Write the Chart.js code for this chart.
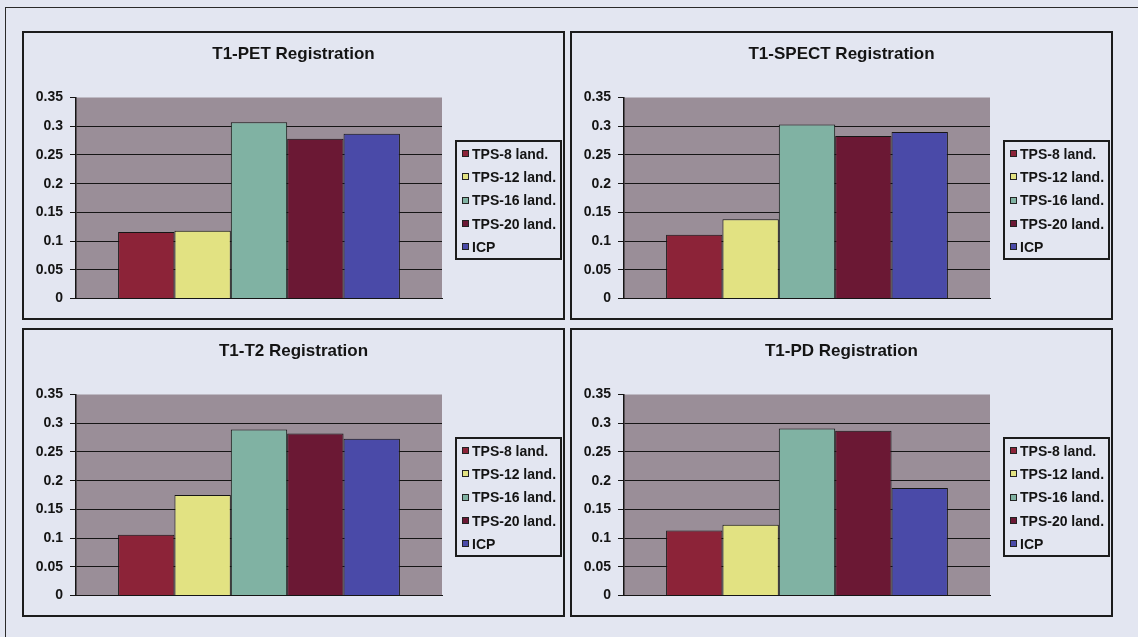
<!DOCTYPE html>
<html>
<head>
<meta charset="utf-8">
<script src="https://cdn.jsdelivr.net/npm/chart.js@4/dist/chart.umd.min.js"></script>
<style>
  html, body { margin: 0; padding: 0; }
  body {
    width: 1138px; height: 637px; overflow: hidden; position: relative;
    background: #e3e6f1;
    font-family: 'Liberation Sans', Arial, sans-serif;
  }
  .frame-top { position: absolute; left: 5px; top: 7px; width: 1133px; height: 0; border-top: 1.5px solid #2a2a2a; }
  .frame-left { position: absolute; left: 5px; top: 7px; width: 0; height: 630px; border-left: 1.5px solid #2a2a2a; }
  .panel {
    position: absolute; box-sizing: border-box;
    width: 543px; height: 289px;
    border: 2px solid #1c1c1c;
  }
  .panel canvas { position: absolute; left: 0; top: 0; }
  .title {
    position: absolute; left: 0; top: 11px; width: 539px;
    text-align: center; font-size: 17px; font-weight: bold; line-height: 20px;
    color: #141414; white-space: nowrap;
  }
  .legend {
    position: absolute; box-sizing: border-box;
    left: 431px; top: 107px; width: 107px;
    border: 2px solid #1c1c1c;
    padding: 0 0 0 5px;
  }
  .legend .item {
    height: 23.3px; display: flex; align-items: center;
    font-size: 14px; font-weight: bold; color: #141414; white-space: nowrap;
  }
  .legend .swatch {
    width: 5px; height: 5px; border: 1px solid #222; margin-right: 3px; flex: none;
  }
</style>
</head>
<body>
<div class="frame-top"></div>
<div class="frame-left"></div>
<div id="charts"></div>
<script>
// Series shown in every panel
const seriesNames = ['TPS-8 land.', 'TPS-12 land.', 'TPS-16 land.', 'TPS-20 land.', 'ICP'];
const seriesColors = ['#8c2338', '#e2e282', '#80b2a3', '#6b1834', '#4a4aa8'];

// Panel titles
const panelTitles = ['T1-PET Registration', 'T1-SPECT Registration', 'T1-T2 Registration', 'T1-PD Registration'];

// Registration error per method, one array per panel
const petValues   = [0.116, 0.118, 0.307, 0.278, 0.287];
const spectValues = [0.111, 0.138, 0.303, 0.283, 0.290];
const t2Values    = [0.106, 0.175, 0.289, 0.282, 0.273];
const pdValues    = [0.113, 0.123, 0.291, 0.287, 0.187];

// Value axis
const yTickLabels = ['0', '0.05', '0.1', '0.15', '0.2', '0.25', '0.3', '0.35'];
const yMin = 0, yMax = 0.35, yStep = 0.05;

const panelValues = [petValues, spectValues, t2Values, pdValues];
const panelPos = [[22, 31], [570, 31], [22, 328], [570, 328]];

Chart.defaults.font.family = "'Liberation Sans', Arial, sans-serif";
Chart.defaults.color = '#141414';

// Grey plot-area fill behind the bars
const plotBackground = {
  id: 'plotBackground',
  beforeDraw(chart) {
    const a = chart.chartArea;
    const ctx = chart.ctx;
    ctx.save();
    ctx.fillStyle = '#9a8e98';
    ctx.fillRect(a.left, a.top, a.right - a.left, a.bottom - a.top);
    ctx.restore();
  }
};

const container = document.getElementById('charts');

panelValues.forEach((values, p) => {
  const panel = document.createElement('div');
  panel.className = 'panel';
  panel.style.left = panelPos[p][0] + 'px';
  panel.style.top = panelPos[p][1] + 'px';
  container.appendChild(panel);

  const canvas = document.createElement('canvas');
  canvas.width = 539; canvas.height = 285;
  canvas.style.width = '539px'; canvas.style.height = '285px';
  panel.appendChild(canvas);

  // Title, centred over the whole panel
  const title = document.createElement('div');
  title.className = 'title';
  title.textContent = panelTitles[p];
  panel.appendChild(title);

  // Legend box
  const legend = document.createElement('div');
  legend.className = 'legend';
  seriesNames.forEach((name, i) => {
    const item = document.createElement('div');
    item.className = 'item';
    const sw = document.createElement('span');
    sw.className = 'swatch';
    sw.style.background = seriesColors[i];
    item.appendChild(sw);
    item.appendChild(document.createTextNode(name));
    legend.appendChild(item);
  });
  panel.appendChild(legend);

  new Chart(canvas, {
    type: 'bar',
    data: {
      labels: [''],
      datasets: seriesNames.map((name, i) => ({
        label: name,
        data: [values[i]],
        backgroundColor: seriesColors[i],
        borderColor: '#151515',
        borderWidth: 1,
        categoryPercentage: 0.77,
        barPercentage: 1.0
      }))
    },
    options: {
      responsive: false,
      animation: false,
      layout: { padding: { left: 0, right: 121, top: 64.5, bottom: 19.5 } },
      plugins: {
        legend: { display: false },
        tooltip: { enabled: false },
        title: { display: false }
      },
      scales: {
        x: {
          grid: { display: false },
          ticks: { display: false },
          border: { display: true, color: '#151515', width: 1 },
          afterFit(scale) { scale.height = 0; }
        },
        y: {
          min: yMin, max: yMax,
          ticks: {
            stepSize: yStep,
            padding: 7,
            color: '#141414',
            font: { size: 14, weight: 'bold' },
            callback: (value, index) => yTickLabels[index]
          },
          grid: {
            color: (ctx) => (ctx.index === yTickLabels.length - 1 ? 'rgba(0,0,0,0)' : '#151515'),
            tickColor: '#151515',
            tickLength: 6,
            lineWidth: 1
          },
          border: { display: true, color: '#151515', width: 1.5 },
          afterFit(scale) { scale.width = 52; }
        }
      }
    },
    plugins: [plotBackground]
  });
});
</script>
</body>
</html>
